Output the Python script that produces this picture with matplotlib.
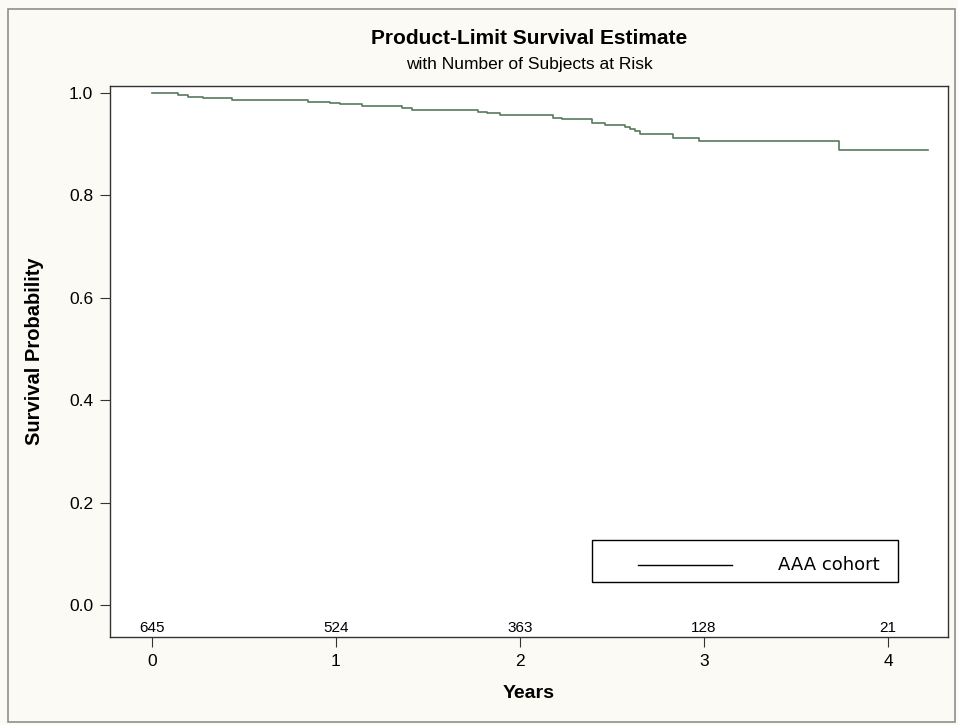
import matplotlib
matplotlib.use("Agg")
import matplotlib.pyplot as plt
from matplotlib.lines import Line2D
from matplotlib.patches import Rectangle

# Kaplan-Meier step data (time in years, survival probability)
times = [0.0, 0.143, 0.197, 0.279, 0.433, 0.850, 0.967, 1.022, 1.140, 1.357, 1.413,
         1.774, 1.819, 1.891, 2.181, 2.227, 2.390, 2.462, 2.571, 2.598, 2.625, 2.652,
         2.830, 2.975, 3.734, 4.219]
survival = [1.000, 0.996, 0.993, 0.990, 0.986, 0.983, 0.980, 0.978, 0.975, 0.970, 0.966,
            0.963, 0.960, 0.957, 0.952, 0.949, 0.941, 0.938, 0.934, 0.929, 0.925, 0.920,
            0.913, 0.907, 0.889, 0.889]

risk_times = [0, 1, 2, 3, 4]
at_risk = [645, 524, 363, 128, 21]
x_ticks = [0, 1, 2, 3, 4]
y_ticks = [0.0, 0.2, 0.4, 0.6, 0.8, 1.0]
series_label = "AAA cohort"

W, H = 958, 725
plt.rcParams['font.family'] = ['Liberation Sans', 'DejaVu Sans']
fig = plt.figure(figsize=(W / 100, H / 100), dpi=100, facecolor="#fcfaf4")

# outer border
fig.patches.append(Rectangle((8 / W, 1 - 722 / H), (955 - 8) / W, (722 - 9) / H,
                             transform=fig.transFigure, fill=False,
                             edgecolor="#8f8f8f", linewidth=1.2))

ax = fig.add_axes([110 / W, 1 - 637 / H, (948 - 110) / W, (637 - 86) / H])
ax.set_facecolor("white")
ax.step(times, survival, where="post", color="#587a5c", linewidth=1.2)

ax.set_xlim(-0.228, 4.326)
ax.set_ylim(-0.0625, 1.0137)
ax.set_xticks(x_ticks)
ax.set_xticklabels([str(v) for v in x_ticks], fontsize=12.5)
ax.set_yticks(y_ticks)
ax.set_yticklabels([f"{v:.1f}" for v in y_ticks], fontsize=12.5)
ax.tick_params(direction="out", length=7.2, width=0.8, color="#333333", pad=5)
for s in ax.spines.values():
    s.set_color("#333333")
    s.set_linewidth(1.0)

for t, n in zip(risk_times, at_risk):
    ax.text(t, -0.044, str(n), ha="center", va="center", fontsize=11)


def axfx(px):
    return (px - 110) / (948 - 110)


def axfy(py):
    return (637 - py) / (637 - 86)


ax.set_xlabel("Years", fontsize=14, fontweight="bold")
ax.xaxis.set_label_coords(axfx(529), axfy(693))
ax.xaxis.label.set_va("center")
ax.set_ylabel("Survival Probability", fontsize=14.5, fontweight="bold")
ax.yaxis.set_label_coords(axfx(35), axfy(351))
ax.yaxis.label.set_va("center")

fig.text(529 / W, 1 - 38 / H, "Product-Limit Survival Estimate", ha="center", va="center",
         fontsize=15, fontweight="bold")
fig.text(529 / W, 1 - 64 / H, "with Number of Subjects at Risk", ha="center", va="center",
         fontsize=12.5)

# legend box (drawn in axes-fraction coordinates)
ax.add_patch(Rectangle((axfx(592), axfy(582)), axfx(898) - axfx(592), axfy(540) - axfy(582),
                       transform=ax.transAxes, facecolor="white", edgecolor="black",
                       linewidth=1.0, zorder=5))
ax.add_line(Line2D([axfx(638), axfx(732)], [axfy(565), axfy(565)], transform=ax.transAxes,
                   color="black", linewidth=1.0, zorder=6))
ax.text(axfx(778), axfy(565), series_label, transform=ax.transAxes, ha="left", va="center",
        fontsize=13, family=["DejaVu Sans"], zorder=6)

fig.savefig("out.png", dpi=100, facecolor=fig.get_facecolor())
